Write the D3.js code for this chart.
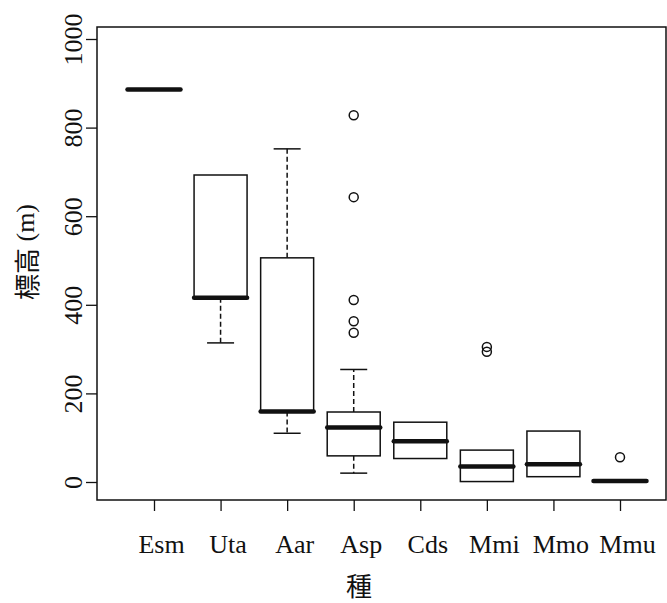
<!DOCTYPE html>
<html>
<head>
<meta charset="utf-8">
<script src="https://cdn.jsdelivr.net/npm/d3@7"></script>
<style>
  html, body { margin: 0; padding: 0; background: #fff; }
  svg { display: block; }
  .serif { font-family: "Liberation Serif", "Times New Roman", "DejaVu Serif", serif; }
  .cjk { font-family: "Noto Sans CJK JP", "Noto Sans CJK SC", sans-serif; }
</style>
</head>
<body>
<svg id="chart" width="667" height="603"></svg>
<script>
// Elevation (m) by species: box-and-whisker summaries
const categories   = ["Esm", "Uta", "Aar", "Asp", "Cds", "Mmi", "Mmo", "Mmu"];
const lowerWhisker = [886, 314, 110,  20,  53,   1,  12,  2];
const q1           = [886, 416, 159,  59,  53,   1,  12,  2];
const medians      = [886, 416, 159, 123,  92,  35,  40,  2];
const q3           = [886, 693, 506, 158, 135,  72, 115,  2];
const upperWhisker = [886, 693, 752, 254, 135,  72, 115,  2];
const outliers     = [[], [], [], [828, 643, 411, 363, 337], [], [305, 294], [], [56]];
const yTicks       = [0, 200, 400, 600, 800, 1000];

const svg = d3.select("#chart");
const ink = "#111";

const frame = { left: 97, right: 666, top: 27, bottom: 500 };

const y = d3.scaleLinear().domain([0, 1000]).range([482, 39]);
const x = d3.scaleLinear().domain([1, 8]).range([154, 620]);
const halfBox = 26.5;
const halfCap = 13.5;

const rows = categories.map((c, i) => ({
  name: c, pos: i + 1,
  lo: lowerWhisker[i], q1: q1[i], med: medians[i], q3: q3[i], hi: upperWhisker[i],
  out: outliers[i]
}));

// plot frame
svg.append("rect")
  .attr("x", frame.left).attr("y", frame.top)
  .attr("width", frame.right - frame.left).attr("height", frame.bottom - frame.top)
  .attr("fill", "none").attr("stroke", ink).attr("stroke-width", 1.5);

// y axis
const yAxis = svg.append("g")
  .attr("transform", `translate(${frame.left},0)`)
  .call(d3.axisLeft(y).tickValues(yTicks).tickSize(11).tickFormat(d3.format("d")))
  .attr("font-family", null).attr("font-size", null);
yAxis.select(".domain").remove();
yAxis.selectAll(".tick line").attr("stroke", ink).attr("stroke-width", 1.3);
yAxis.selectAll(".tick text")
  .attr("x", null).attr("dy", null)
  .attr("transform", "translate(-15,0) rotate(-90)")
  .attr("text-anchor", "middle")
  .attr("class", "serif").style("font-size", "26px").attr("fill", ink);

// x axis
const xAxis = svg.append("g")
  .attr("transform", `translate(0,${frame.bottom})`)
  .call(d3.axisBottom(x).tickValues(rows.map(r => r.pos)).tickSize(11)
    .tickFormat(d => categories[d - 1]))
  .attr("font-family", null).attr("font-size", null);
xAxis.select(".domain").remove();
xAxis.selectAll(".tick line").attr("stroke", ink).attr("stroke-width", 1.3);
xAxis.selectAll(".tick text")
  .attr("y", 53).attr("dy", null).attr("dx", 7)
  .attr("class", "serif").style("font-size", "26px").attr("fill", ink);

// axis titles
svg.append("text")
  .attr("transform", "translate(25,252) rotate(-90)")
  .attr("text-anchor", "middle").attr("dominant-baseline", "central")
  .attr("fill", ink)
  .call(t => {
    t.append("tspan").attr("class", "cjk").style("font-size", "26px").text("標高");
    t.append("tspan").attr("class", "serif").style("font-size", "26px").text(" (m)");
  });

svg.append("text")
  .attr("x", 359).attr("y", 584)
  .attr("text-anchor", "middle").attr("dominant-baseline", "central")
  .attr("class", "cjk").style("font-size", "26px").attr("fill", ink)
  .text("種");

// boxes
const g = svg.append("g");
const box = g.selectAll("g.box").data(rows).join("g").attr("class", "box");

// whiskers (dashed) and caps
box.filter(d => d.hi > d.q3).append("line")
  .attr("x1", d => x(d.pos)).attr("x2", d => x(d.pos))
  .attr("y1", d => y(d.q3)).attr("y2", d => y(d.hi))
  .attr("stroke", ink).attr("stroke-width", 1.5).attr("stroke-dasharray", "5,3");
box.filter(d => d.hi > d.q3).append("line")
  .attr("x1", d => x(d.pos) - halfCap).attr("x2", d => x(d.pos) + halfCap)
  .attr("y1", d => y(d.hi)).attr("y2", d => y(d.hi))
  .attr("stroke", ink).attr("stroke-width", 1.5);
box.filter(d => d.lo < d.q1).append("line")
  .attr("x1", d => x(d.pos)).attr("x2", d => x(d.pos))
  .attr("y1", d => y(d.q1)).attr("y2", d => y(d.lo))
  .attr("stroke", ink).attr("stroke-width", 1.5).attr("stroke-dasharray", "5,3");
box.filter(d => d.lo < d.q1).append("line")
  .attr("x1", d => x(d.pos) - halfCap).attr("x2", d => x(d.pos) + halfCap)
  .attr("y1", d => y(d.lo)).attr("y2", d => y(d.lo))
  .attr("stroke", ink).attr("stroke-width", 1.5);

// interquartile box
box.filter(d => d.q3 > d.q1).append("rect")
  .attr("x", d => x(d.pos) - halfBox).attr("width", halfBox * 2)
  .attr("y", d => y(d.q3)).attr("height", d => y(d.q1) - y(d.q3))
  .attr("fill", "#fff").attr("stroke", ink).attr("stroke-width", 1.5);

// median
box.append("line")
  .attr("x1", d => x(d.pos) - halfBox).attr("x2", d => x(d.pos) + halfBox)
  .attr("y1", d => y(d.med)).attr("y2", d => y(d.med))
  .attr("stroke", ink).attr("stroke-width", 4.5).attr("stroke-linecap", "round");

// outliers
box.selectAll("circle").data(d => d.out.map(v => ({ pos: d.pos, v }))).join("circle")
  .attr("cx", d => x(d.pos)).attr("cy", d => y(d.v)).attr("r", 4.5)
  .attr("fill", "none").attr("stroke", ink).attr("stroke-width", 1.5);
</script>
</body>
</html>
